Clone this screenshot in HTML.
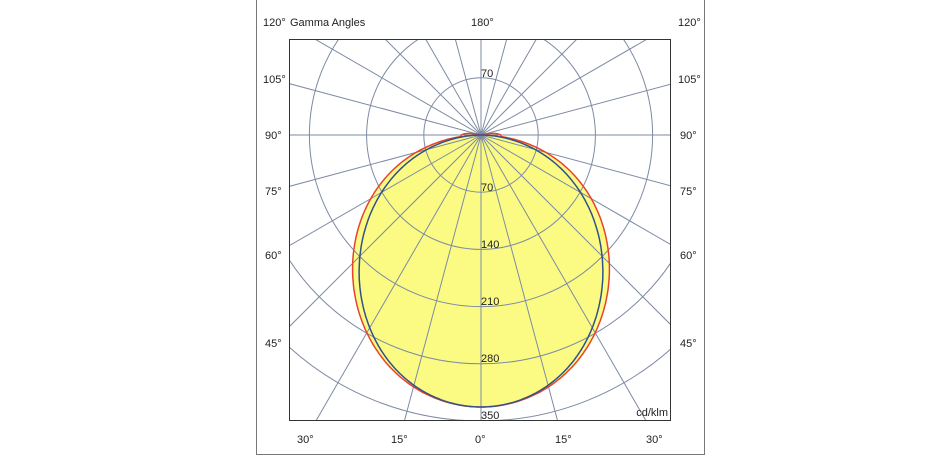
<!DOCTYPE html>
<html><head><meta charset="utf-8"><style>
html,body{margin:0;padding:0;background:#fff;width:945px;height:472px;overflow:hidden;}
svg{display:block;}
text{font-family:"Liberation Sans",Arial,sans-serif;font-size:11px;fill:#222;}
</style></head><body>
<svg id="s" width="945" height="472" viewBox="0 0 945 472" xmlns="http://www.w3.org/2000/svg">
<defs><clipPath id="c"><rect x="289" y="39" width="382" height="382"/></clipPath></defs>
<path d="M256.5 0 V454.5 H704.5 V0" fill="none" stroke="#777" stroke-width="1"/>
<g id="fill" clip-path="url(#c)"></g>
<g id="grid" clip-path="url(#c)" stroke="#7d8ba3" stroke-width="1" fill="none"></g>
<g id="curves" clip-path="url(#c)" fill="none"></g>
<rect x="289.5" y="39.5" width="381" height="381" fill="none" stroke="#333" stroke-width="1"/>
<g>
<text x="263" y="26">120°</text><text x="290" y="26">Gamma Angles</text><text x="471" y="26">180°</text><text x="678" y="26">120°</text>
<text x="263" y="83">105°</text><text x="678" y="83">105°</text>
<text x="265" y="139">90°</text><text x="680" y="139">90°</text>
<text x="265" y="195">75°</text><text x="680" y="195">75°</text>
<text x="265" y="259">60°</text><text x="680" y="259">60°</text>
<text x="265" y="347">45°</text><text x="680" y="347">45°</text>
<text x="297" y="443">30°</text><text x="391" y="443">15°</text><text x="475" y="443">0°</text><text x="555" y="443">15°</text><text x="646" y="443">30°</text>
<text x="481" y="77">70</text><text x="481" y="191">70</text><text x="481" y="248">140</text><text x="481" y="305">210</text><text x="481" y="362">280</text><text x="481" y="419">350</text>
<text x="668" y="416" text-anchor="end">cd/klm</text>
</g>
</svg>
<script>
var cx=481,cy=135,R=272,NS="http://www.w3.org/2000/svg";
function el(p,t,a){var e=document.createElementNS(NS,t);for(var k in a)e.setAttribute(k,a[k]);document.getElementById(p).appendChild(e);return e;}
for(var k=1;k<=7;k++)el("grid","circle",{cx:cx,cy:cy,r:(57.2*k).toFixed(1)});
for(var a=0;a<360;a+=15){var t=a*Math.PI/180;el("grid","line",{x1:cx,y1:cy,x2:cx+600*Math.sin(t),y2:cy+600*Math.cos(t)});}
function ss(a,b,x){var u=Math.min(1,Math.max(0,(x-a)/(b-a)));return u*u*(3-2*u);}
function curve(p0,p1,bh,bw){var d="";for(var g=-112;g<=112;g+=0.5){var t=g*Math.PI/180,c=Math.cos(t),e=Math.abs(g),r=0;
 var p=p0-(p0-p1)*ss(25,85,e);
 if(e<=90)r=R*Math.pow(Math.max(c,0),p);
 if(bh>0&&e>=80&&e<=90+bw)r=Math.max(r,bh*Math.cos(Math.PI/2*Math.max(0,e-88)/(bw-2)));
 var x=cx+r*Math.sin(t),y=cy+r*c;d+=(d?"L":"M")+x.toFixed(1)+" "+y.toFixed(1);}return d+"Z";}
var red=curve(1.22,1.02,20,18),blue=curve(1.4,1.15,0,0);
el("fill","path",{d:red,fill:"#fbfb84"});
el("curves","path",{d:red,stroke:"#e8432a","stroke-width":1.5});
el("curves","path",{d:blue,stroke:"#34508a","stroke-width":1.5});
</script>
</body></html>
